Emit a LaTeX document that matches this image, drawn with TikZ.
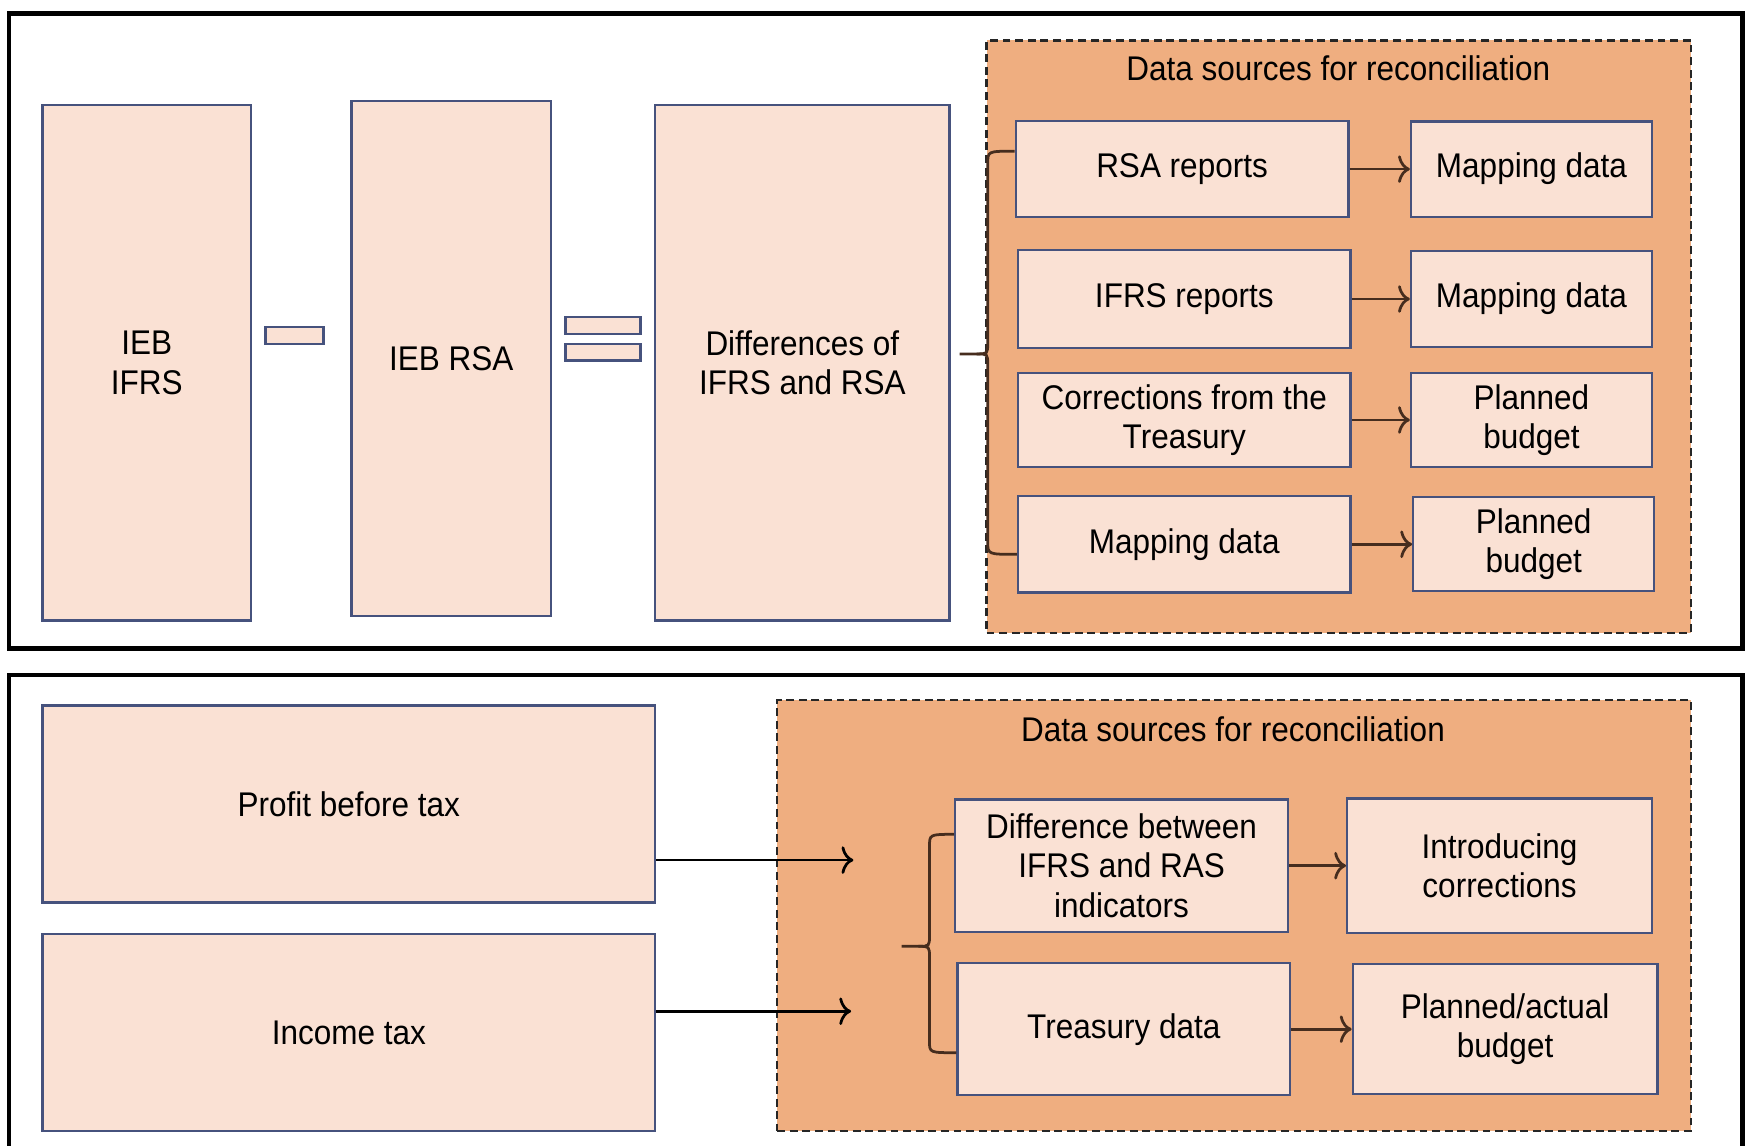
\documentclass[tikz,border=0pt]{standalone}
\usepackage{fontspec}
\setmainfont{Liberation Sans}[FakeStretch=0.92]
\usetikzlibrary{calc,arrows.meta}

\definecolor{boxfill}{RGB}{250,225,212}
\definecolor{boxline}{RGB}{70,82,125}
\definecolor{poolfill}{RGB}{239,174,128}
\definecolor{flowcol}{RGB}{70,45,30}

\tikzset{every picture/.style={line width=0.6pt},
  every node/.style={font=\fontsize{8.7}{10}\selectfont},
  frame/.style={draw=black,line width=1.1pt},
  srcbox/.style={draw=boxline,fill=boxfill,line width=0.6pt,align=center,inner sep=1pt},
  pool/.style={draw=black!85,fill=poolfill,dash pattern=on 2pt off 1.2pt,line width=0.6pt},
  flow/.style={->,draw=flowcol,line width=0.7pt},
  brace/.style={draw=flowcol,line width=0.7pt},
  >={To[length=3pt,width=7pt]}}

\begin{document}
\begin{tikzpicture}[x=0.1mm,y=-0.1mm]
        \useasboundingbox (0,0) rectangle (1560,1023);
        % upper panel
        \draw[frame] (8,12) rectangle (1556,579);
        \node[srcbox,minimum width=18.6mm,minimum height=46mm] (ifrsbox) at (131,324) {IEB\\IFRS};
        \node[srcbox,minimum width=5.2mm,minimum height=1.5mm] (minusbar) at (263,299.5) {};
        \node[srcbox,minimum width=17.8mm,minimum height=46mm] (rsabox) at (403,320) {IEB RSA};
        \node[srcbox,minimum width=6.7mm,minimum height=1.5mm] (eqbarA) at (538.5,290.5) {};
        \node[srcbox,minimum width=6.7mm,minimum height=1.5mm] (eqbarB) at (538.5,314.5) {};
        \node[srcbox,minimum width=26.3mm,minimum height=46mm] (diffbox) at (716.5,324) {Differences of\\IFRS and RSA};

        \node[pool,minimum width=62.9mm,minimum height=52.9mm] (poolup) at (1195.5,300.5) {};
        \node (titleup) at (1195,61) {Data sources for reconciliation};
        \node[srcbox,minimum width=29.7mm,minimum height=8.6mm] (srcA) at (1055.5,151) {RSA reports};
        \node[srcbox,minimum width=29.7mm,minimum height=8.8mm] (srcB) at (1057.5,267) {IFRS reports};
        \node[srcbox,minimum width=29.7mm,minimum height=8.4mm] (srcC) at (1057.5,375) {Corrections from the\\Treasury};
        \node[srcbox,minimum width=29.7mm,minimum height=8.6mm] (srcD) at (1057.5,486) {Mapping data};
        \node[srcbox,minimum width=21.5mm,minimum height=8.5mm] (mapA) at (1367.5,151) {Mapping data};
        \node[srcbox,minimum width=21.5mm,minimum height=8.6mm] (mapB) at (1367.5,267) {Mapping data};
        \node[srcbox,minimum width=21.5mm,minimum height=8.4mm] (planA) at (1367.5,375) {Planned\\budget};
        \node[srcbox,minimum width=21.5mm,minimum height=8.4mm] (planB) at (1369.5,486) {Planned\\budget};
        \draw[flow] (srcA) -- (mapA);
        \draw[flow] (srcB) -- (mapB);
        \draw[flow] (srcC) -- (planA);
        \draw[flow] (srcD) -- (planB);

        \coordinate (tipup) at (857,316);
        \coordinate (cuspup) at (872,316);
        \draw[brace] (tipup) -- (cuspup) .. controls (882,316) .. (882,306) -- (882,146) .. controls (882,135) .. ($(srcA.west)+(0,-16)$);
        \draw[brace] (cuspup) .. controls (882,316) .. (882,326) -- (882,484) .. controls (882,495) .. ($(srcD.west)+(0,9)$);

        % lower panel
        \draw[frame] (8,603) rectangle (1556,1060);
        \node[srcbox,minimum width=54.7mm,minimum height=17.6mm] (profit) at (311.5,718) {Profit before tax};
        \node[srcbox,minimum width=54.7mm,minimum height=17.6mm] (incometax) at (311.5,922) {Income tax};

        \node[pool,minimum width=81.6mm,minimum height=38.5mm] (poollow) at (1102,817.5) {};
        \node (titlelow) at (1101,651) {Data sources for reconciliation};
        \node[srcbox,minimum width=29.7mm,minimum height=11.8mm] (gapbox) at (1001.5,773) {Difference between\\IFRS and RAS\\indicators};
        \node[srcbox,minimum width=27.2mm,minimum height=12mm] (corrbox) at (1339,773) {Introducing\\corrections};
        \node[srcbox,minimum width=29.7mm,minimum height=11.8mm] (treasury) at (1003.5,919) {Treasury data};
        \node[srcbox,minimum width=27.2mm,minimum height=11.6mm] (budget) at (1344,919) {Planned/actual\\budget};
        \draw[flow] (gapbox) -- (corrbox);
        \draw[flow] (treasury) -- (budget);

        \coordinate (inA) at (762,768);
        \coordinate (inB) at (760,903);
        \draw[->,line width=0.7pt] (profit.east |- inA) -- (inA);
        \draw[->,line width=0.7pt] (incometax.east |- inB) -- (inB);

        \coordinate (tiplow) at (805,845);
        \coordinate (cusplow) at (820,845);
        \draw[brace] (tiplow) -- (cusplow) .. controls (830,845) .. (830,835) -- (830,756) .. controls (830,745) .. ($(gapbox.west)+(0,-28)$);
        \draw[brace] (cusplow) .. controls (830,845) .. (830,855) -- (830,930) .. controls (830,940) .. ($(treasury.west)+(0,21)$);
    \end{tikzpicture}
\end{document}
